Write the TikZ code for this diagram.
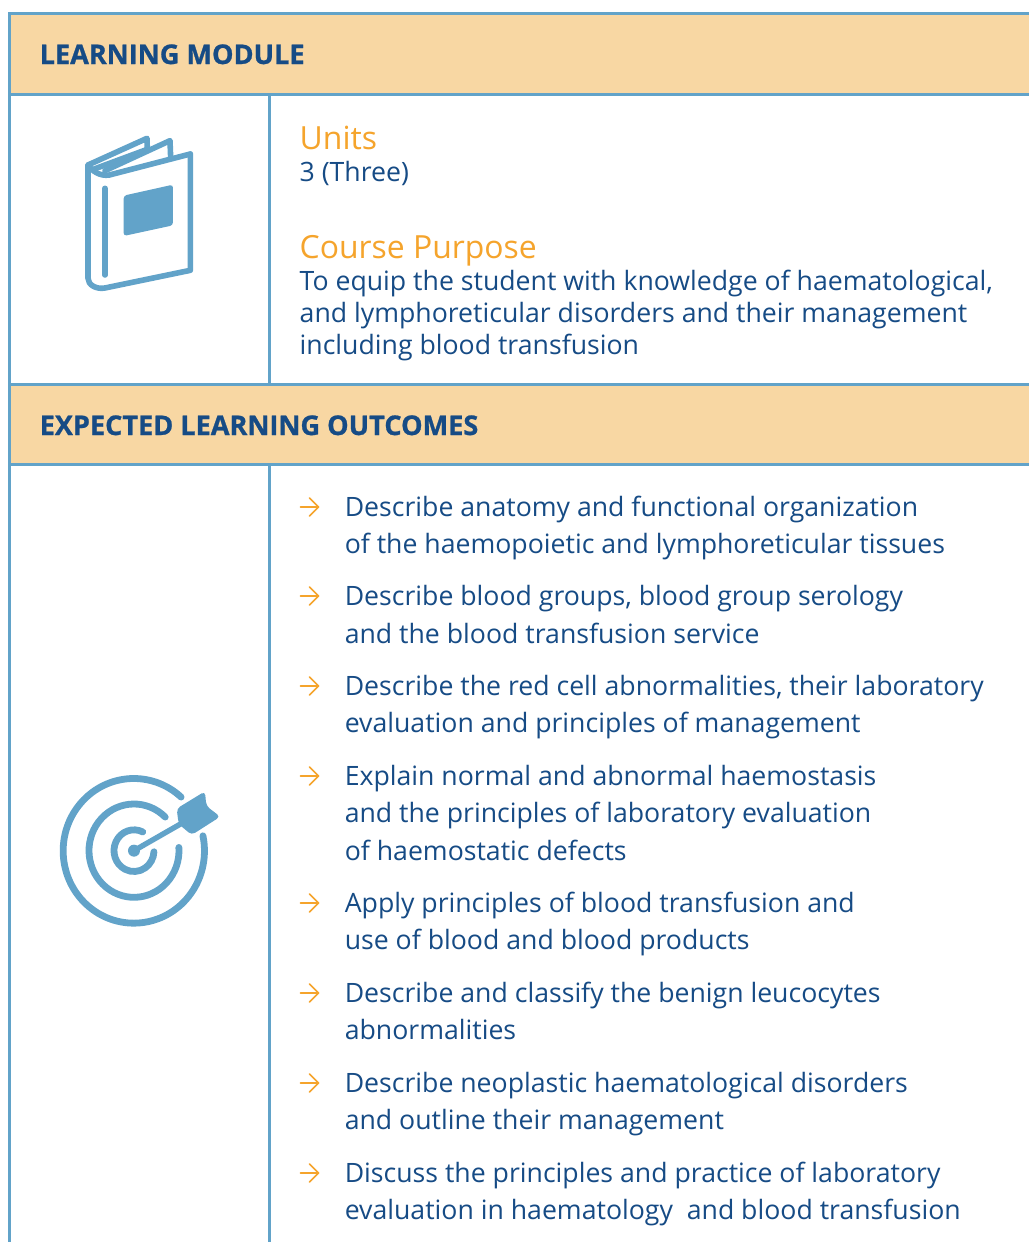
\documentclass[tikz,border=0pt]{standalone}
\usepackage{fontspec}
\setmainfont{Open Sans}
\newfontfamily\headfont[BoldFeatures={FakeBold=0.9}]{Open Sans}
\definecolor{rule}{HTML}{62A3C9}
\definecolor{band}{HTML}{F8D7A3}
\definecolor{navy}{HTML}{164B85}
\definecolor{amber}{HTML}{F5A42C}
\tikzset{
 rulel/.style={draw=rule,line width=3pt},
 headtxt/.style={anchor=base west,inner sep=0,text=navy,font=\fontsize{27.1}{30}\selectfont\headfont\bfseries},
 bodytxt/.style={anchor=base west,inner sep=0,text=navy,font=\fontsize{26.65}{30}\selectfont},
 subhead/.style={anchor=base west,inner sep=0,text=amber,font=\fontsize{31.9}{36}\selectfont},
 iconl/.style={draw=rule,line width=5.6pt,line cap=round,line join=round},
 ringl/.style={draw=rule,line width=6.8pt,line cap=round},
 bullet/.style={draw=amber,line width=1.6pt,line cap=round,line join=round},
}
\newcommand{\bul}[1]{\draw[bullet] (300.5,#1) -- (318.5,#1); \draw[bullet] (309.5,#1-9) -- (318.5,#1) -- (309.5,#1+9);}
\begin{document}
\begin{tikzpicture}[x=1pt,y=-1pt]
\useasboundingbox (0,0) rectangle (1029,1242);
\fill[white] (0,0) rectangle (1029,1242);
\fill[band] (9,13) rectangle (1029,94);
\fill[band] (9,384) rectangle (1029,464);
\draw[rulel] (9,1242) -- (9,13) -- (1029,13);
\draw[rulel] (9,94) -- (1029,94);
\draw[rulel] (9,384) -- (1029,384);
\draw[rulel] (9,464) -- (1029,464);
\draw[rulel] (269,94) -- (269,384);
\draw[rulel] (269,464) -- (269,1242);
% book icon
\begin{scope}[shift={(50,110)},x=0.3333pt,y=-0.3333pt]
\draw[iconl] (421,132) -- (421,481) -- (165,534) .. controls (140,539) and (114,525) .. (114,505) -- (114,165) -- (291,85) -- (292,118);
\draw[iconl] (114,165) .. controls (125,182) and (150,200) .. (178,195) -- (421,132);
\draw[iconl] (165,182) -- (360,92) -- (362,142);
\draw[iconl] (130,178) -- (292,118);
\draw[iconl] (165,235) -- (165,495);
\fill[rule,rounded corners=3pt] (221,257) -- (369,224) -- (369,346) -- (221,378) -- cycle;
\end{scope}
% target icon
\begin{scope}[shift={(40,750)},x=0.3333pt,y=-0.3333pt]
\draw[ringl] (281.5,302.5) ++(-48:212 and 217) arc[start angle=-48,end angle=-372,x radius=212,y radius=217];
\draw[ringl] (282,302) ++(-46:135 and 140) arc[start angle=-46,end angle=-364,x radius=135,y radius=140];
\draw[ringl] (282,302) ++(-64:60 and 62.5) arc[start angle=-64,end angle=-357,x radius=60,y radius=62.5];
\fill[rule] (282,302) circle[radius=18];
\draw[rule,line width=5.4pt,line cap=round] (282,302) -- (425,220);
\fill[rule,rounded corners=4pt] (410,176) -- (495,124) -- (499,168) -- (541,200) -- (455,255) -- (416,222) -- cycle;
\end{scope}
% text
\node[headtxt] (t1) at (39.5,64) {LEARNING MODULE};
\node[subhead] (t2) at (299.5,149) {Units};
\node[bodytxt] (t3) at (299.5,181) {3 (Three)};
\node[subhead] (t4) at (299.5,258) {Course Purpose};
\node[bodytxt] (t5) at (299.5,290) {To equip the student with knowledge of haematological,};
\node[bodytxt] (t6) at (299.5,322) {and lymphoreticular disorders and their management};
\node[bodytxt] (t7) at (299.5,354) {including blood transfusion};
\node[headtxt] (t8) at (39.5,435) {EXPECTED LEARNING OUTCOMES};
\bul{507}
\node[bodytxt] (a1) at (344.6,516) {Describe anatomy and functional organization};
\node[bodytxt] (a2) at (344.6,553) {of the haemopoietic and lymphoreticular tissues};
\bul{596}
\node[bodytxt] (b1) at (344.6,605) {Describe blood groups, blood group serology};
\node[bodytxt] (b2) at (344.6,643) {and the blood transfusion service};
\bul{686}
\node[bodytxt] (c1) at (344.6,695) {Describe the red cell abnormalities, their laboratory};
\node[bodytxt] (c2) at (344.6,732) {evaluation and principles of management};
\bul{776}
\node[bodytxt] (d1) at (344.6,785) {Explain normal and abnormal haemostasis};
\node[bodytxt] (d2) at (344.6,822) {and the principles of laboratory evaluation};
\node[bodytxt] (d3) at (344.6,860) {of haemostatic defects};
\bul{903}
\node[bodytxt] (e1) at (344.6,912) {Apply principles of blood transfusion and};
\node[bodytxt] (e2) at (344.6,949) {use of blood and blood products};
\bul{993}
\node[bodytxt] (f1) at (344.6,1002) {Describe and classify the benign leucocytes};
\node[bodytxt] (f2) at (344.6,1039) {abnormalities};
\bul{1083}
\node[bodytxt] (g1) at (344.6,1092) {Describe neoplastic haematological disorders};
\node[bodytxt] (g2) at (344.6,1129) {and outline their management};
\bul{1173}
\node[bodytxt] (h1) at (344.6,1182) {Discuss the principles and practice of laboratory};
\node[bodytxt] (h2) at (344.6,1219) {evaluation in haematology\ \ and blood transfusion};
\end{tikzpicture}
\end{document}
